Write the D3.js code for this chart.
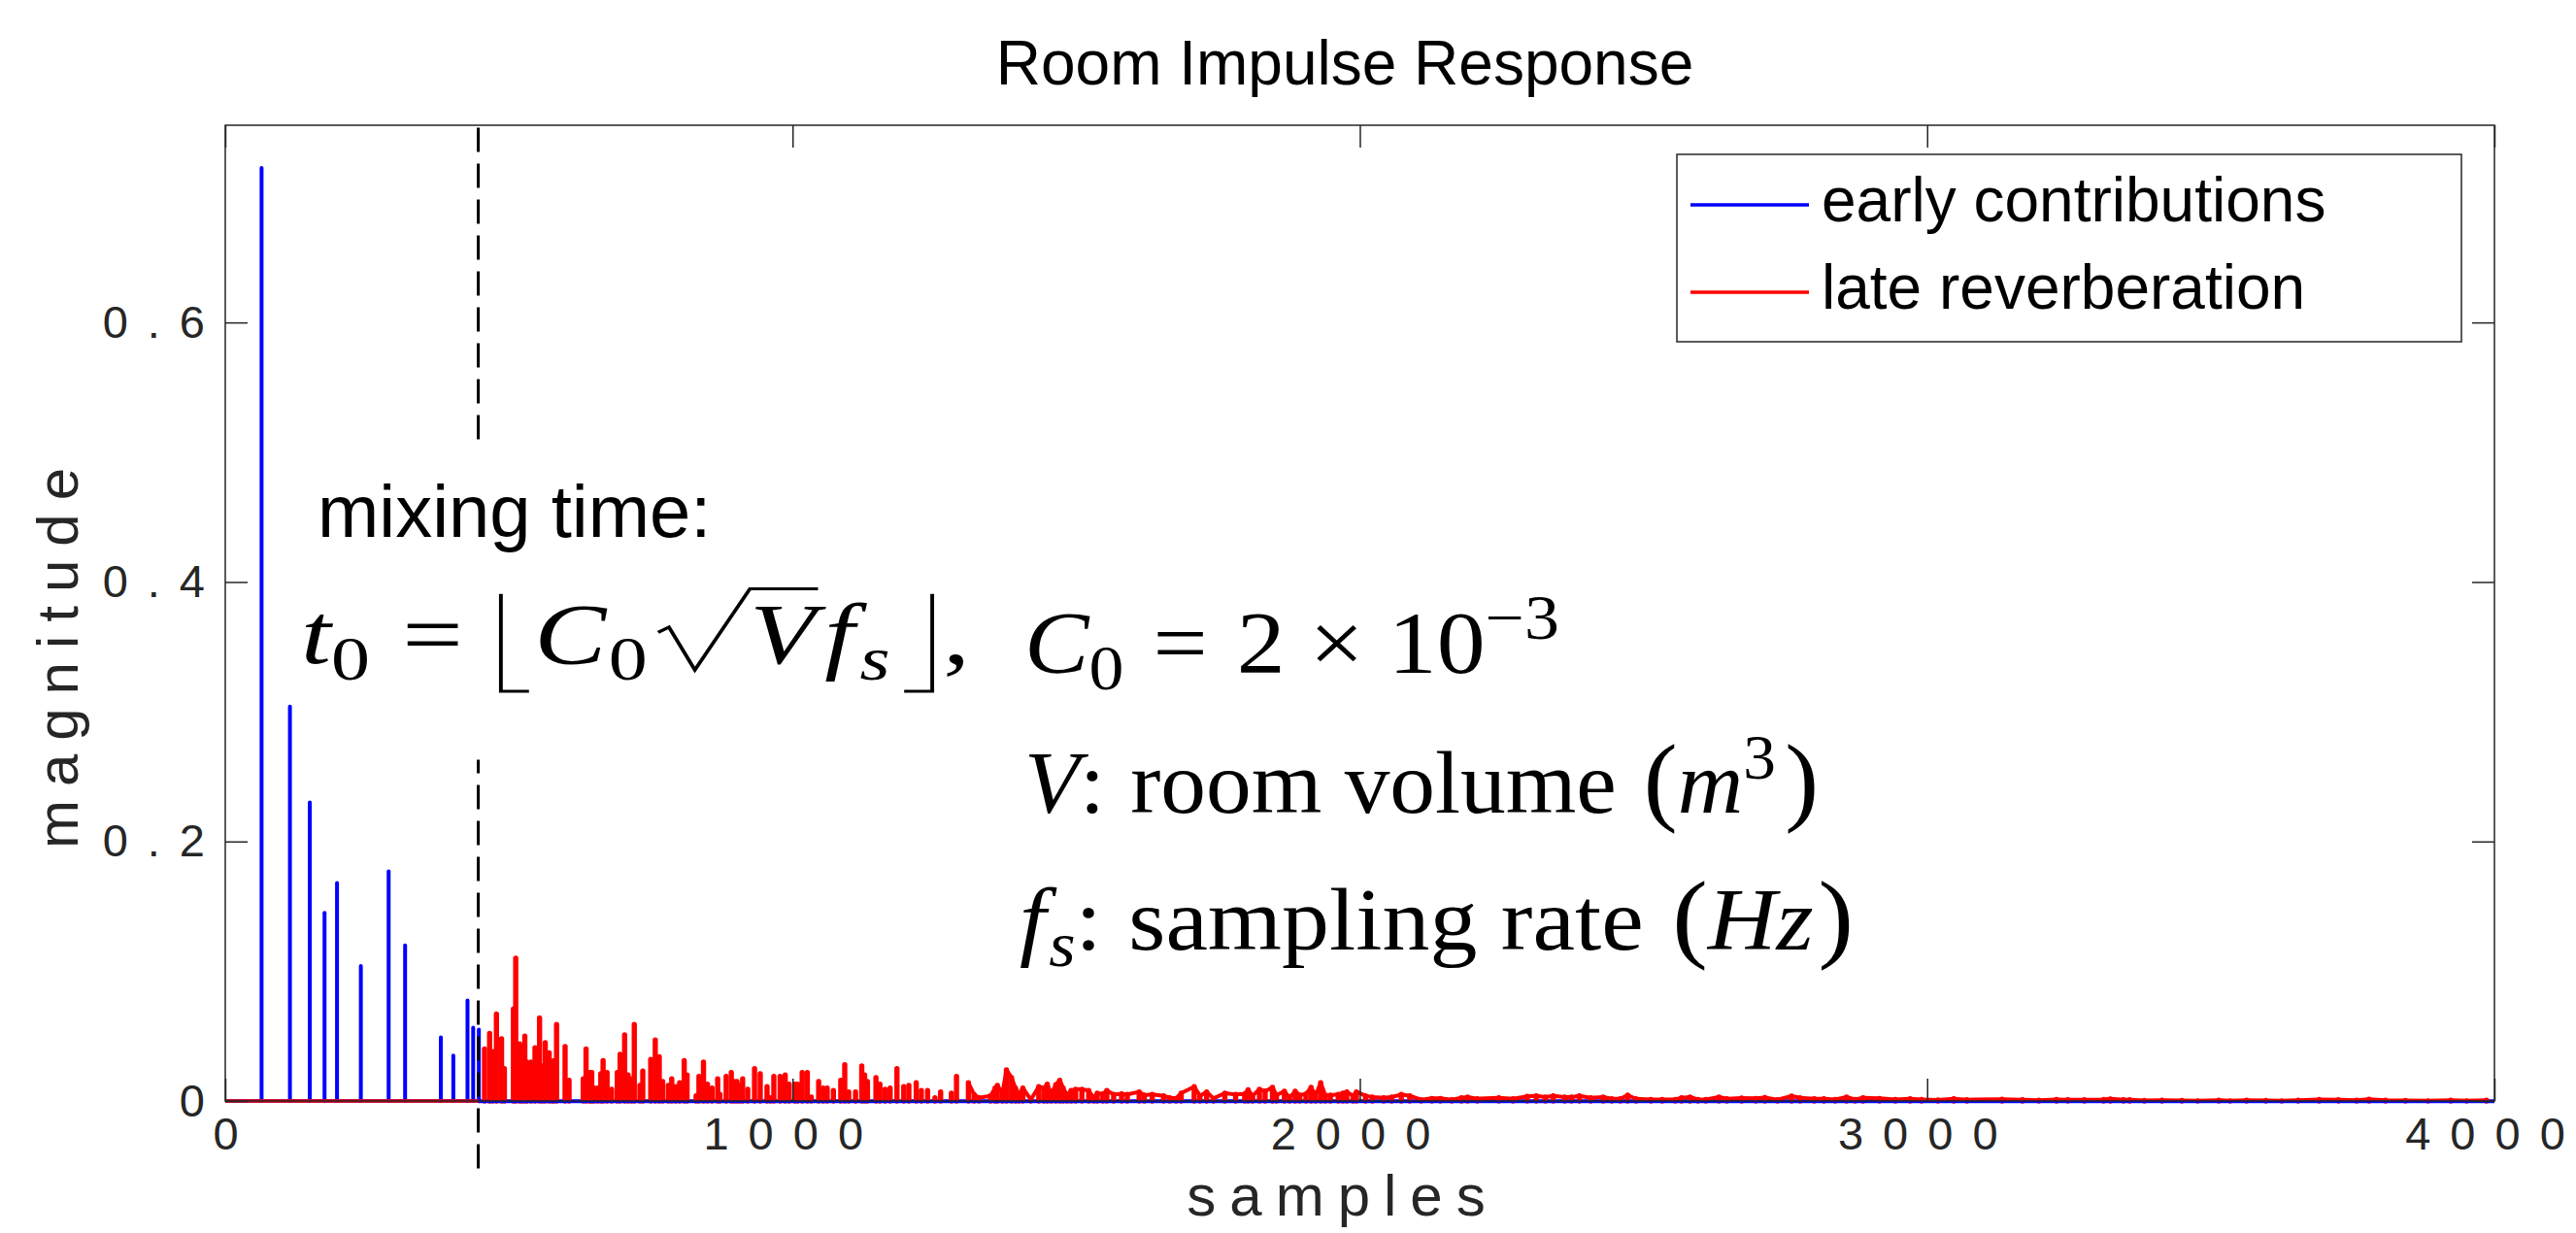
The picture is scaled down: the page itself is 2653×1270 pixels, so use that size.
<!DOCTYPE html>
<html><head><meta charset="utf-8">
<script src="https://cdn.jsdelivr.net/npm/d3@7"></script>
<style>body{margin:0;background:#fff} svg{display:block}</style>
</head><body>
<svg id="chart" width="2653" height="1270"></svg>
<script>
// ---------------- data ----------------
const xTicks = [0, 1000, 2000, 3000, 4000];
const xTickLabels = ["0", "1000", "2000", "3000", "4000"];
const yTicks = [0, 0.2, 0.4, 0.6];
const yTickLabels = ["0", "0.2", "0.4", "0.6"];
const xDomain = [0, 4000];
const yDomain = [0, 0.752];
const mixingTime = 446;
const mixingSegments = [[-0.052, 0.263], [0.510, 0.752]];
const seriesNames = ["early contributions", "late reverberation"];

const blueSamples = [64, 114, 149, 175, 197, 239, 288, 317, 380, 402, 427, 437, 447];
const blueValues  = [0.719, 0.304, 0.230, 0.145, 0.168, 0.104, 0.177, 0.120, 0.049, 0.035, 0.0775, 0.0565, 0.055];

const redSamples = [
 457,466,471,478,487,492,508,512,519,523,528,532,539,546,554,559,564,571,576,579,584,599,606,
 631,636,642,646,650,656,662,666,673,681,691,696,704,710,716,721,731,736,750,758,765,771,781,787,
 794,801,809,814,830,835,843,850,858,868,872,883,892,897,902,907,912,921,933,943,955,961,967,978,
 987,994,1004,1009,1017,1026,1033,1046,1054,1061,1072,1085,1092,1099,1111,1122,1127,1132,1147,1154,
 1163,1172,1184,1196,1205,1218,1227,1238,1251,1261,1280,1289,
 1310,1320,1329,1349,1357,1361,1370,1377,1386,1393,1399,1406,1420,1434,1443,1449,1456,1464,1471,1477,
 1484,1491,1499,1510,1522,1531,1537,1547,1554,1566,1580,1590,1611,1620,1634,1654,1665,1676,1685,1708,
 1718,1730,1742,1762,1781,1797,1803,1811,1823,1833,1846,1853,1867,1876,1886,1894,1905,1914,1922,1931,
 1939,1948,1962,1970,1977,1988,1994,2010,2022,2042,2056,2073,2088,2108,2127,2142,2162,2179,
 2190,2207,2245,2270,2295,2311,2327,2341,2361,2373,2387,2407,2429,2444,2459,2472,2487,2513,2533,2556,
 2567,2582,2596,2610,2633,2647,2673,2698,2714,2736,2761,2776,2801,2818,2838,2858,2873,2887,2916,2944,
 2970,2990,3019,3047,3070,
 3132,3168,3197,3228,3248,3277,3311,3323,3346,3357,3383,3414,3449,3477,3514,3534,3563,3597,3625,3654,
 3691,3725,3757,3779,3808,3843,3883,3923,3951,3986];
const redValues = [
 .040,.052,.038,.067,.048,.025,.071,.110,.044,.042,.050,.030,.030,.041,.064,.027,.045,.037,.026,.031,.059,.042,.016,
 .017,.040,.022,.022,.010,.010,.021,.031,.022,.009,.022,.036,.051,.020,.017,.059,.012,.023,.032,.047,.034,.015,.012,.017,
 .011,.014,.031,.020,.004,.019,.030,.013,.010,.017,.005,.019,.022,.015,.015,.012,.017,.009,.025,.021,.011,.0025,.019,.019,
 .020,.013,.013,.013,.022,.022,.003,.015,.010,.010,.008,.016,.028,.007,.007,.027,.020,.015,.018,.013,
 .009,.010,.025,.011,.012,.014,.008,.008,.0025,.007,.006,.019,
 .014,.005,.0025,.004,.010,.012,.006,.024,.018,.010,.005,.010,.001,.011,.010,.013,.0055,.0125,.016,.010,
 .0045,.008,.009,.009,.008,.0025,.006,.0055,.008,.005,.0055,.005,.007,.0045,.005,.004,.0025,.002,.006,.011,
 .004,.007,.002,.006,.005,.0055,.0087,.004,.009,.0075,.0105,.0045,.0075,.0025,.0075,.0045,.0055,.0105,.0045,.014,
 .0045,.0045,.005,.006,.007,.004,.007,.004,.003,.0025,.003,.005,.004,.001,.002,.002,.001,.0025,
 .003,.0017,.0025,.0017,.0035,.004,.003,.004,.003,.003,.004,.0025,.003,.0017,.0017,.0045,.0017,.0012,.0012,.0012,
 .0025,.003,.0012,.0012,.003,.0017,.0022,.002,.0027,.001,.0037,.0025,.0017,.0017,.0012,.003,.0012,.0025,.002,.0012,
 .0017,.0012,.0007,.0017,.001,
 .0014,.0009,.0006,.0011,.0009,.0009,.0011,.0016,.0009,.0009,.0004,.0006,.0004,.0001,.0006,.0001,.0006,.0004,.0001,.0006,
 .0011,.0009,.0006,.0014,.0006,.0004,.0001,.0006,.0001,.0006];

// ---------------- layout ----------------
const W = 2653, H = 1270;
const M = {left: 232, right: 2569, top: 129, bottom: 1134};
const SANS = "'Liberation Sans', Arial, Helvetica, sans-serif";
const SERIF = "'Liberation Serif', 'Times New Roman', 'DejaVu Serif', serif";
const AX = "#262626";
const BLUE = "#0000ff", RED = "#ff0000";

const svg = d3.select("#chart");
svg.append("rect").attr("width", W).attr("height", H).attr("fill", "#fff");

const x = d3.scaleLinear().domain(xDomain).range([M.left, M.right]);
const y = d3.scaleLinear().domain(yDomain).range([M.bottom, M.top]);

svg.append("defs").append("clipPath").attr("id", "plotclip")
  .append("rect").attr("x", M.left).attr("y", M.top - 2)
  .attr("width", M.right - M.left).attr("height", M.bottom - M.top + 6);

const plot = svg.append("g").attr("clip-path", "url(#plotclip)");

const blue = d3.zip(blueSamples, blueValues);
const red = d3.zip(redSamples, redValues);

// blue baseline (signal is zero outside the spikes)
plot.append("line").attr("x1", x(xDomain[0])).attr("x2", x(xDomain[1]))
  .attr("y1", y(0)).attr("y2", y(0)).attr("stroke", BLUE).attr("stroke-width", 3.6);

// blue spikes
plot.append("g").selectAll("line").data(blue).join("line")
  .attr("x1", d => x(d[0])).attr("x2", d => x(d[0]))
  .attr("y1", y(0)).attr("y2", d => y(d[1]))
  .attr("stroke", BLUE).attr("stroke-width", 4).attr("stroke-linecap", "round");

// red spikes
plot.append("g").selectAll("line").data(red).join("line")
  .attr("x1", d => x(d[0])).attr("x2", d => x(d[0]))
  .attr("y1", y(0)).attr("y2", d => y(d[1]))
  .attr("stroke", RED).attr("stroke-width", 5.4).attr("stroke-linecap", "round");

// dense tail of the reverberation as a connected line
plot.append("path").datum(red.filter(d => d[0] >= 1290))
  .attr("d", d3.line().x(d => x(d[0])).y(d => y(d[1])))
  .attr("fill", "none").attr("stroke", RED).attr("stroke-width", 4).attr("stroke-linejoin", "round");

// blue baseline visible below the reverberation
plot.append("line").attr("x1", x(mixingTime)).attr("x2", x(xDomain[1]))
  .attr("y1", y(0) + 1).attr("y2", y(0) + 1).attr("stroke", BLUE).attr("stroke-width", 2.6);

// red is zero before the mixing time
plot.append("line").attr("x1", x(xDomain[0])).attr("x2", x(mixingTime))
  .attr("y1", y(0)).attr("y2", y(0)).attr("stroke", RED).attr("stroke-width", 3.6);

// ---------------- axes ----------------
const TL = 23;
function styleAxis(g) {
  g.select(".domain").remove();
  g.selectAll(".tick line").attr("stroke", AX).attr("stroke-width", 1.5);
  g.selectAll(".tick text").attr("fill", AX).attr("font-family", SANS);
}
// spaced-out tick labels, without trailing space after the last glyph
function spaceOut(sel, ls) {
  sel.each(function () {
    const s = this.textContent;
    const t = d3.select(this).text(null);
    if (s.length > 1) t.append("tspan").attr("letter-spacing", ls).text(s.slice(0, -1));
    t.append("tspan").text(s.slice(-1));
  });
}
const tickFS = 47, tickLS = 20;
const gx = svg.append("g").attr("transform", `translate(0,${M.bottom})`)
  .call(d3.axisBottom(x).tickValues(xTicks).tickFormat((d, i) => xTickLabels[i])
        .tickSizeInner(-TL).tickSizeOuter(0).tickPadding(17));
styleAxis(gx);
gx.selectAll(".tick text").attr("font-size", tickFS)
  .attr("dx", function () { return this.textContent.length > 1 ? -10 : 0; })
  .call(spaceOut, tickLS);

const gxt = svg.append("g").attr("transform", `translate(0,${M.top})`)
  .call(d3.axisTop(x).tickValues(xTicks).tickFormat("").tickSizeInner(-TL).tickSizeOuter(0));
styleAxis(gxt);

const gy = svg.append("g").attr("transform", `translate(${M.left},0)`)
  .call(d3.axisLeft(y).tickValues(yTicks).tickFormat((d, i) => yTickLabels[i])
        .tickSizeInner(-TL).tickSizeOuter(0).tickPadding(21));
styleAxis(gy);
gy.selectAll(".tick text").attr("font-size", tickFS).call(spaceOut, tickLS);

const gyr = svg.append("g").attr("transform", `translate(${M.right},0)`)
  .call(d3.axisRight(y).tickValues(yTicks).tickFormat("").tickSizeInner(-TL).tickSizeOuter(0));
styleAxis(gyr);

svg.append("rect").attr("x", M.left).attr("y", M.top)
  .attr("width", M.right - M.left).attr("height", M.bottom - M.top)
  .attr("fill", "none").attr("stroke", AX).attr("stroke-width", 1.5);

// mixing time dashed line
svg.append("g").selectAll("line").data(mixingSegments).join("line")
  .attr("x1", x(mixingTime)).attr("x2", x(mixingTime))
  .attr("y1", d => y(d[0])).attr("y2", d => y(d[1]))
  .attr("stroke", "#000").attr("stroke-width", 3).attr("stroke-dasharray", "25 12");

// axis labels
const labFS = 60, labLS = 14;
svg.append("text").attr("x", 1376).attr("y", 1252).attr("text-anchor", "middle")
  .attr("font-family", SANS).attr("font-size", labFS).attr("letter-spacing", labLS).attr("dx", labLS / 2)
  .attr("fill", AX).text("samples");
svg.append("text").attr("transform", `translate(80,678) rotate(-90)`).attr("text-anchor", "middle")
  .attr("font-family", SANS).attr("font-size", labFS).attr("letter-spacing", labLS).attr("dx", labLS / 2)
  .attr("fill", AX).text("magnitude");

// title
svg.append("text").attr("x", 1385).attr("y", 87).attr("text-anchor", "middle")
  .attr("font-family", SANS).attr("font-size", 64).attr("fill", "#000").text("Room Impulse Response");

// legend
const lg = svg.append("g");
lg.append("rect").attr("x", 1727).attr("y", 159).attr("width", 808).attr("height", 193)
  .attr("fill", "#fff").attr("stroke", AX).attr("stroke-width", 1.5);
const legendRows = [{name: seriesNames[0], color: BLUE, y: 211}, {name: seriesNames[1], color: RED, y: 301}];
legendRows.forEach(r => {
  lg.append("line").attr("x1", 1741).attr("x2", 1863).attr("y1", r.y).attr("y2", r.y)
    .attr("stroke", r.color).attr("stroke-width", 3.3);
  lg.append("text").attr("x", 1876).attr("y", r.y + 17).attr("font-family", SANS)
    .attr("font-size", 64).attr("fill", "#000").text(r.name);
});

// ---------------- annotations ----------------
svg.append("text").attr("x", 327).attr("y", 553).attr("font-family", SANS)
  .attr("font-size", 76).attr("fill", "#000").text("mixing time:");

function mathLine(x0, base, F, right, pieces) {
  const g = svg.append("g");
  let cx = x0;
  const marks = {};
  const sw = Math.max(2.5, F * 0.035);
  pieces.forEach(p => {
    if (p.gap !== undefined) { cx += p.gap * F; return; }
    if (p.floor) {
      const w = 0.26 * F, top = base - 0.81 * F, bot = base + 0.33 * F;
      const pts = p.floor === "L"
        ? [[cx + 0.05 * F, top], [cx + 0.05 * F, bot], [cx + 0.05 * F + w, bot]]
        : [[cx + 0.05 * F, bot], [cx + 0.05 * F + w, bot], [cx + 0.05 * F + w, top]];
      g.append("path").attr("d", d3.line()(pts)).attr("fill", "none")
        .attr("stroke", "#000").attr("stroke-width", sw);
      cx += w + 0.1 * F; return;
    }
    if (p.radical) { marks.radical = cx; cx += 0.85 * F; return; }
    const size = F * (p.s || 1);
    const t = g.append("text").attr("x", cx).attr("y", base + (p.dy || 0) * F)
      .attr("font-family", SERIF).attr("font-size", size)
      .attr("font-style", p.it ? "italic" : "normal").attr("fill", "#000").text(p.t);
    const w = t.node().getComputedTextLength();
    if (p.mark) marks[p.mark] = [cx, cx + w];
    cx += w + (p.after || 0) * F;
  });
  if (marks.radical !== undefined && marks.V) {
    const r = marks.radical;
    const pts = [[r, base - 0.36 * F], [r + 0.1 * F, base - 0.42 * F], [r + 0.34 * F, base + 0.08 * F],
                 [r + 0.85 * F, base - 0.87 * F], [marks.V[1] + 0.02 * F, base - 0.87 * F]];
    g.append("path").attr("d", d3.line()(pts)).attr("fill", "none")
      .attr("stroke", "#000").attr("stroke-width", sw).attr("stroke-linejoin", "miter");
  }
  const k = (right - x0) / (cx - x0);
  g.attr("transform", `translate(${x0},0) scale(${k},1) translate(${-x0},0)`);
}

mathLine(310, 683, 88, 999, [
  {t: "t", it: true}, {t: "0", s: 0.72, dy: 0.19},
  {gap: 0.3}, {t: "="}, {gap: 0.3},
  {floor: "L"}, {t: "C", it: true, after: 0.02}, {t: "0", s: 0.72, dy: 0.19}, {gap: 0.1},
  {radical: true}, {t: "V", it: true, mark: "V", after: 0.08},
  {t: "f", it: true, after: 0.05}, {t: "s", it: true, s: 0.72, dy: 0.19}, {gap: 0.08},
  {floor: "R"}, {gap: 0.05}, {t: ","}
]);
mathLine(1055, 693, 90, 1606, [
  {t: "C", it: true}, {t: "0", s: 0.72, dy: 0.19},
  {gap: 0.3}, {t: "="}, {gap: 0.3}, {t: "2"}, {gap: 0.25}, {t: "×"}, {gap: 0.25},
  {t: "10"}, {t: "−3", s: 0.72, dy: -0.39}
]);
mathLine(1055, 837, 90, 1873, [
  {t: "V", it: true}, {t: ":"}, {gap: 0.28}, {t: "room volume"}, {gap: 0.3},
  {t: "(", s: 1.12}, {t: "m", it: true}, {t: "3", s: 0.72, dy: -0.39}, {gap: 0.1}, {t: ")", s: 1.12}
]);
mathLine(1050, 978, 90, 1909, [
  {t: "f", it: true, after: 0.03}, {t: "s", it: true, s: 0.72, dy: 0.19}, {t: ":"}, {gap: 0.28},
  {t: "sampling rate"}, {gap: 0.3},
  {t: "(", s: 1.12}, {t: "H", it: true}, {t: "z", it: true}, {gap: 0.05}, {t: ")", s: 1.12}
]);
</script>
</body></html>
